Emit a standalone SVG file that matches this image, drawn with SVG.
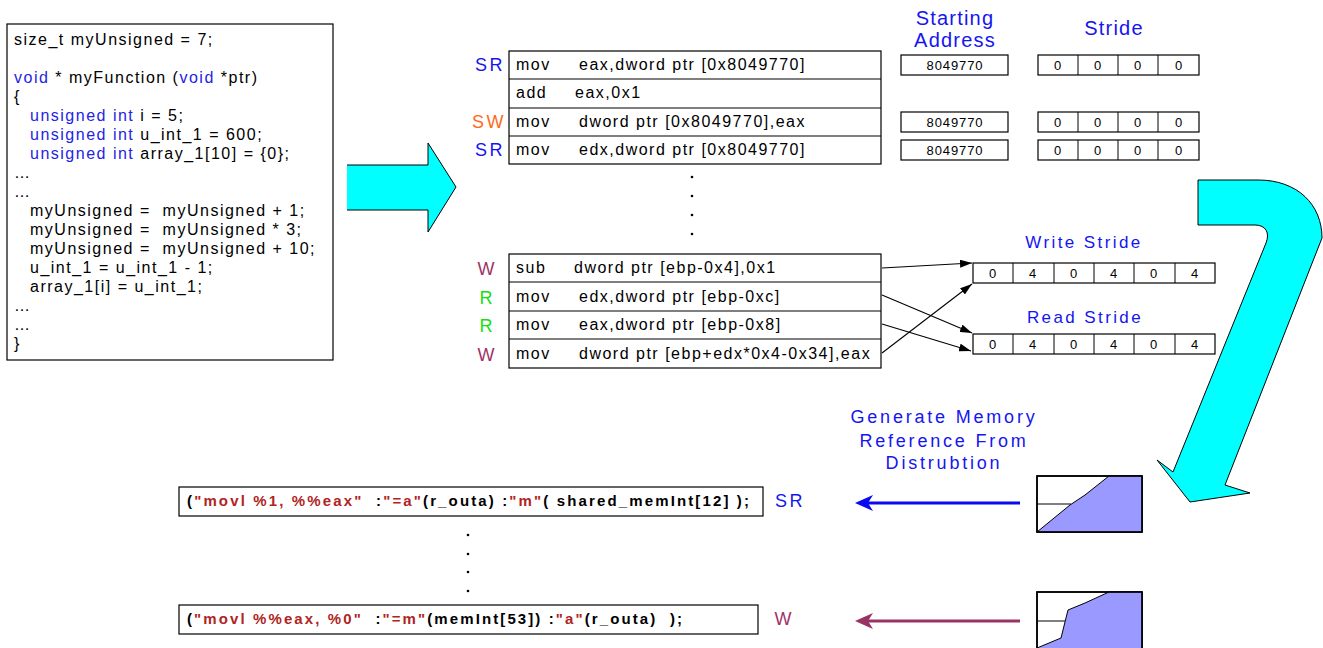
<svg xmlns="http://www.w3.org/2000/svg" width="1323" height="648" viewBox="0 0 1323 648">
<defs>
<style>
.t{font-family:"Liberation Sans",Arial,sans-serif;fill:#000}
.code{font-size:16px;letter-spacing:1.5px;white-space:pre}
.kw{fill:#2323e6}
.asm{font-size:16px;letter-spacing:1.5px}
.box{fill:#fff;stroke:#000;stroke-width:1.2}
.hdr{font-size:20px;letter-spacing:1.2px;fill:#1515f0;text-anchor:middle}
.lbl{font-size:18px;letter-spacing:2.5px;text-anchor:end}
.num{font-size:13px;text-anchor:middle;letter-spacing:0.9px}
.sub{font-size:17px;letter-spacing:2.4px;fill:#1515f0;text-anchor:middle}
.gen{font-size:18px;letter-spacing:2.8px}
.gc{font-size:15px;font-weight:bold;white-space:pre}
.red{fill:#b02424}
.blue{fill:#1515f0}
.orange{fill:#ff6a1a}
.maroon{fill:#a0336a}
.green{fill:#12e012}
.dot{fill:#000}
.conn{stroke:#000;stroke-width:1.1;fill:none}
</style>
<marker id="ah" viewBox="0 0 12 8" refX="12" refY="4" markerWidth="12" markerHeight="8" markerUnits="userSpaceOnUse" orient="auto">
<path d="M0,0 L12,4 L0,8 Z" fill="#000"/>
</marker>
</defs>
<rect width="1323" height="648" fill="#fff"/>

<g id="code-box">
<rect x="7" y="24" width="326" height="336" class="box" stroke-width="1.5"/>
<text class="t code" x="14" y="45">size_t myUnsigned = 7;</text>
<text class="t code" x="14" y="83"><tspan class="kw">void</tspan> * myFunction (<tspan class="kw">void</tspan> *ptr)</text>
<text class="t code" x="14" y="102">{</text>
<text class="t code" x="30" y="121"><tspan class="kw">unsigned int</tspan> i = 5;</text>
<text class="t code" x="30" y="140"><tspan class="kw">unsigned int</tspan> u_int_1 = 600;</text>
<text class="t code" x="30" y="159"><tspan class="kw">unsigned int</tspan> array_1[10] = {0};</text>
<text class="t code" x="14" y="178">…</text>
<text class="t code" x="14" y="197">…</text>
<text class="t code" x="30" y="216">myUnsigned =  myUnsigned + 1;</text>
<text class="t code" x="30" y="235">myUnsigned =  myUnsigned * 3;</text>
<text class="t code" x="30" y="254">myUnsigned =  myUnsigned + 10;</text>
<text class="t code" x="30" y="273">u_int_1 = u_int_1 - 1;</text>
<text class="t code" x="30" y="292">array_1[i] = u_int_1;</text>
<text class="t code" x="14" y="311">…</text>
<text class="t code" x="14" y="330">…</text>
<text class="t code" x="14" y="349">}</text>
</g>

<g id="arrow-right">
<polygon points="347,165 428,165 428,143 456,187 428,232 428,210 347,210" fill="#00ffff"/>
<polyline points="347,165 428,165 428,143 456,187 428,232 428,210 347,210" fill="none" stroke="#000" stroke-width="1"/>
</g>

<g id="asm-top">
<rect x="509" y="51" width="372" height="113" class="box"/>
<line x1="509" y1="79" x2="881" y2="79" stroke="#000" stroke-width="1.2"/>
<line x1="509" y1="108" x2="881" y2="108" stroke="#000" stroke-width="1.2"/>
<line x1="509" y1="136" x2="881" y2="136" stroke="#000" stroke-width="1.2"/>
<text class="t asm" x="516" y="70">mov</text><text class="t asm" x="579" y="70">eax,dword ptr [0x8049770]</text>
<text class="t asm" x="516" y="98">add</text><text class="t asm" x="575" y="98">eax,0x1</text>
<text class="t asm" x="516" y="127">mov</text><text class="t asm" x="579" y="127">dword ptr [0x8049770],eax</text>
<text class="t asm" x="516" y="155">mov</text><text class="t asm" x="579" y="155">edx,dword ptr [0x8049770]</text>
<text class="t lbl blue" x="505" y="71">SR</text>
<text class="t lbl orange" x="506" y="128">SW</text>
<text class="t lbl blue" x="505" y="156">SR</text>
</g>

<g id="dots-top">
<circle cx="692" cy="177" r="1.3" class="dot"/>
<circle cx="692" cy="196" r="1.3" class="dot"/>
<circle cx="692" cy="215" r="1.3" class="dot"/>
<circle cx="692" cy="234" r="1.3" class="dot"/>
</g>

<g id="starting-address">
<text class="t hdr" x="955" y="25">Starting</text>
<text class="t hdr" x="955" y="47">Address</text>
<rect x="901" y="55" width="107" height="20" class="box"/>
<text class="t num" x="955" y="70">8049770</text>
<rect x="901" y="112" width="107" height="20" class="box"/>
<text class="t num" x="955" y="127">8049770</text>
<rect x="901" y="140" width="107" height="20" class="box"/>
<text class="t num" x="955" y="155">8049770</text>
</g>

<g id="stride">
<text class="t hdr" x="1114" y="35">Stride</text>
<rect x="1038" y="55" width="161" height="20" class="box"/>
<line x1="1078" y1="55" x2="1078" y2="75" stroke="#000"/><line x1="1118" y1="55" x2="1118" y2="75" stroke="#000"/><line x1="1158" y1="55" x2="1158" y2="75" stroke="#000"/>
<text class="t num" x="1058" y="70">0</text><text class="t num" x="1098" y="70">0</text><text class="t num" x="1138" y="70">0</text><text class="t num" x="1179" y="70">0</text>
<rect x="1038" y="112" width="161" height="20" class="box"/>
<line x1="1078" y1="112" x2="1078" y2="132" stroke="#000"/><line x1="1118" y1="112" x2="1118" y2="132" stroke="#000"/><line x1="1158" y1="112" x2="1158" y2="132" stroke="#000"/>
<text class="t num" x="1058" y="127">0</text><text class="t num" x="1098" y="127">0</text><text class="t num" x="1138" y="127">0</text><text class="t num" x="1179" y="127">0</text>
<rect x="1038" y="140" width="161" height="20" class="box"/>
<line x1="1078" y1="140" x2="1078" y2="160" stroke="#000"/><line x1="1118" y1="140" x2="1118" y2="160" stroke="#000"/><line x1="1158" y1="140" x2="1158" y2="160" stroke="#000"/>
<text class="t num" x="1058" y="155">0</text><text class="t num" x="1098" y="155">0</text><text class="t num" x="1138" y="155">0</text><text class="t num" x="1179" y="155">0</text>
</g>

<g id="asm-bottom">
<rect x="509" y="254" width="372" height="114" class="box"/>
<line x1="509" y1="282" x2="881" y2="282" stroke="#000" stroke-width="1.2"/>
<line x1="509" y1="311" x2="881" y2="311" stroke="#000" stroke-width="1.2"/>
<line x1="509" y1="339" x2="881" y2="339" stroke="#000" stroke-width="1.2"/>
<text class="t asm" x="516" y="273">sub</text><text class="t asm" x="574" y="273">dword ptr [ebp-0x4],0x1</text>
<text class="t asm" x="516" y="302">mov</text><text class="t asm" x="579" y="302">edx,dword ptr [ebp-0xc]</text>
<text class="t asm" x="516" y="330">mov</text><text class="t asm" x="579" y="330">eax,dword ptr [ebp-0x8]</text>
<text class="t asm" x="516" y="359">mov</text><text class="t asm" x="579" y="359">dword ptr [ebp+edx*0x4-0x34],eax</text>
<text class="t lbl maroon" x="497" y="275">W</text>
<text class="t lbl green" x="495" y="304">R</text>
<text class="t lbl green" x="495" y="332">R</text>
<text class="t lbl maroon" x="497" y="361">W</text>
</g>

<g id="write-stride">
<text class="t sub" x="1084" y="248">Write Stride</text>
<rect x="973" y="263" width="242" height="20" class="box"/>
<line x1="1013" y1="263" x2="1013" y2="283" stroke="#000"/><line x1="1054" y1="263" x2="1054" y2="283" stroke="#000"/><line x1="1094" y1="263" x2="1094" y2="283" stroke="#000"/><line x1="1134" y1="263" x2="1134" y2="283" stroke="#000"/><line x1="1175" y1="263" x2="1175" y2="283" stroke="#000"/>
<text class="t num" x="993" y="278">0</text><text class="t num" x="1033" y="278">4</text><text class="t num" x="1074" y="278">0</text><text class="t num" x="1114" y="278">4</text><text class="t num" x="1154" y="278">0</text><text class="t num" x="1195" y="278">4</text>
</g>

<g id="read-stride">
<text class="t sub" x="1085" y="323">Read Stride</text>
<rect x="973" y="334" width="242" height="20" class="box"/>
<line x1="1013" y1="334" x2="1013" y2="354" stroke="#000"/><line x1="1054" y1="334" x2="1054" y2="354" stroke="#000"/><line x1="1094" y1="334" x2="1094" y2="354" stroke="#000"/><line x1="1134" y1="334" x2="1134" y2="354" stroke="#000"/><line x1="1175" y1="334" x2="1175" y2="354" stroke="#000"/>
<text class="t num" x="993" y="349">0</text><text class="t num" x="1033" y="349">4</text><text class="t num" x="1074" y="349">0</text><text class="t num" x="1114" y="349">4</text><text class="t num" x="1154" y="349">0</text><text class="t num" x="1195" y="349">4</text>
</g>

<g id="connectors">
<line x1="882" y1="268" x2="972" y2="263" class="conn" marker-end="url(#ah)"/>
<line x1="882" y1="295" x2="972" y2="333" class="conn" marker-end="url(#ah)"/>
<line x1="882" y1="324" x2="971" y2="351" class="conn" marker-end="url(#ah)"/>
<line x1="882" y1="353" x2="972" y2="284" class="conn" marker-end="url(#ah)"/>
<line x1="1020" y1="503" x2="868" y2="503" stroke="#0a0af0" stroke-width="3"/>
<path d="M855,503 L873,495 L868,503 L873,511 Z" fill="#0a0af0"/>
<line x1="1020" y1="621" x2="868" y2="621" stroke="#993366" stroke-width="3"/>
<path d="M855,621 L873,613 L868,621 L873,629 Z" fill="#993366"/>
</g>

<g id="curved-arrow">
<path d="M1198,180 L1258,180 C1298,180 1322,205 1322,238 L1225,485 L1250,493 L1190,502 L1157,460 L1173,472 L1266,243 C1270,233 1266,225 1255,225 L1198,225 Z" fill="#00ffff" stroke="#000" stroke-width="1"/>
</g>

<g id="generate-label">
<text class="t sub gen" x="944" y="423">Generate Memory</text>
<text class="t sub gen" x="944" y="447">Reference From</text>
<text class="t sub gen" x="944" y="469">Distrubtion</text>
</g>

<g id="chart-1">
<rect x="1037" y="476" width="105" height="56" fill="#fff" stroke="#000" stroke-width="1.5"/>
<polygon points="1037,532 1070,505 1085,495 1109,476 1142,476 1142,532" fill="#9999ff" stroke="#000" stroke-width="1"/>
<line x1="1037" y1="504" x2="1071" y2="504" stroke="#000"/>
<rect x="1037" y="476" width="105" height="56" fill="none" stroke="#000" stroke-width="1.5"/>
</g>

<g id="chart-2">
<rect x="1037" y="592" width="105" height="62" fill="#fff" stroke="#000" stroke-width="1.5"/>
<polygon points="1037,648 1061,638 1068,610 1085,603 1109,592 1142,592 1142,654 1037,654" fill="#9999ff" stroke="#000" stroke-width="1"/>
<line x1="1037" y1="621" x2="1065" y2="621" stroke="#000"/>
<rect x="1037" y="592" width="105" height="62" fill="none" stroke="#000" stroke-width="1.5"/>
</g>

<g id="gen-code-1">
<rect x="179" y="487" width="584" height="29" class="box"/>
<text class="t gc" x="187" y="506" textLength="562" lengthAdjust="spacing">(<tspan class="red">"movl %1, %%eax"</tspan>  :<tspan class="red">"=a"</tspan>(r_outa) :<tspan class="red">"m"</tspan>( shared_memInt[12] );</text>
<text class="t lbl blue" x="805" y="507" font-size="17">SR</text>
</g>

<g id="dots-bottom">
<circle cx="468" cy="535" r="1.3" class="dot"/>
<circle cx="468" cy="554" r="1.3" class="dot"/>
<circle cx="468" cy="572" r="1.3" class="dot"/>
<circle cx="468" cy="591" r="1.3" class="dot"/>
</g>

<g id="gen-code-2">
<rect x="179" y="605" width="579" height="29" class="box"/>
<text class="t gc" x="187" y="624" textLength="495" lengthAdjust="spacing">(<tspan class="red">"movl %%eax, %0"</tspan>  :<tspan class="red">"=m"</tspan>(memInt[53]) :<tspan class="red">"a"</tspan>(r_outa)  );</text>
<text class="t lbl maroon" x="794" y="625" font-size="17">W</text>
</g>
</svg>
